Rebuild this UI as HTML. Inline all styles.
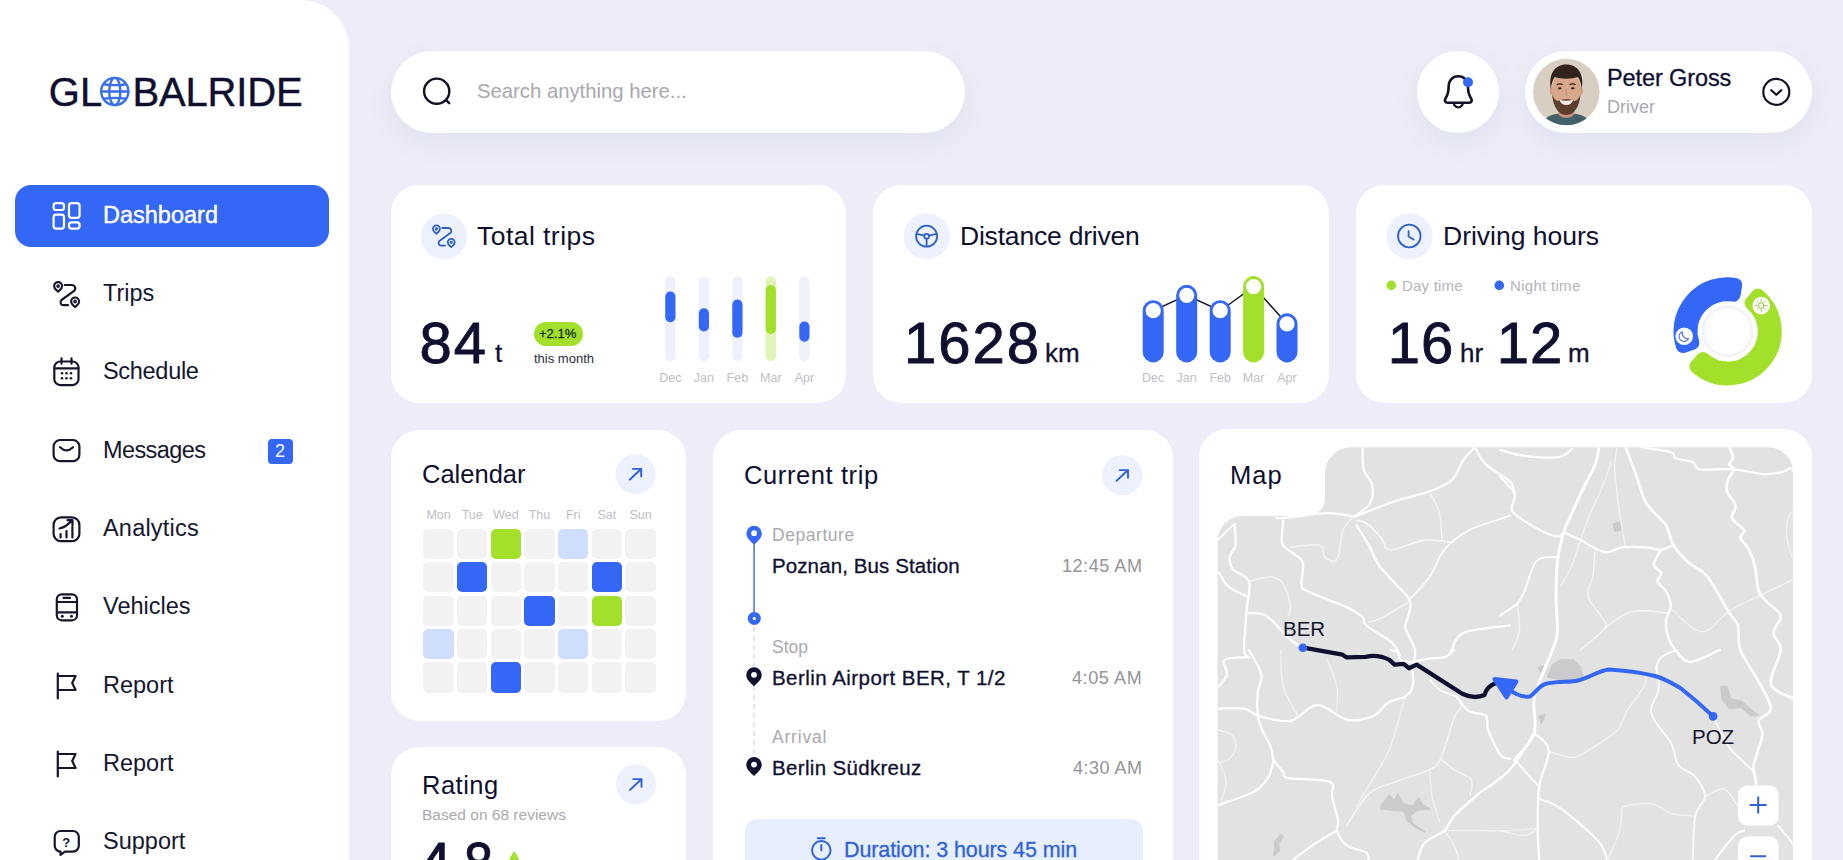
<!DOCTYPE html>
<html><head><meta charset="utf-8">
<style>
*{box-sizing:border-box;margin:0;padding:0}
html,body{width:1843px;height:860px;overflow:hidden}
body{background:#ecedf8;font-family:"Liberation Sans",sans-serif;color:#0f1030;position:relative}
.side{position:absolute;left:0;top:0;width:349px;height:860px;background:#fff;border-top-right-radius:48px}
.logo{-webkit-text-stroke:0.4px #0f1030;position:absolute;left:50px;top:68px;font-size:40px;line-height:46px;white-space:nowrap;color:#0f1030}
.nav{position:absolute;left:103px;font-size:23.5px;line-height:28px;white-space:nowrap;color:#15172f}
.navbtn{position:absolute;left:15px;top:185px;width:314px;height:62px;border-radius:16px;background:#3467f6}
.card{position:absolute;background:#fff;border-radius:28px}
.t{position:absolute;white-space:nowrap;line-height:1}
.g{color:#a9a9af}
.big{font-size:58px;-webkit-text-stroke:0.9px #0f1030}
.unit{font-size:26px;-webkit-text-stroke:0.3px #0f1030}
.h{font-size:26.5px}
.mon{margin-top:1px;font-size:12.5px;color:#bdbec6;transform:translateX(-50%)}
.day{font-size:12.5px;color:#bdbec6;transform:translateX(-50%)}
.cell{position:absolute;width:30.4px;height:30.4px;border-radius:5px;background:#f2f2f3}
.b{background:#3467f6}.gr{background:#a3e02c}.lb{background:#d0defd}
svg{position:absolute;left:0;top:0;overflow:visible}
</style></head><body>
<div class="side">
  <div class="logo" id="logo" style="left:48.8px;top:69px">GL</div><div class="logo" id="logo2" style="left:132.400px;top:69px;letter-spacing:-0.150px">BALRIDE</div>
  <div class="navbtn"></div>
  <div class="nav" style="top:201px;color:#fff;-webkit-text-stroke:0.4px #fff" id="n1">Dashboard</div>
  <div class="nav" style="top:279px" id="n2">Trips</div>
  <div class="nav" style="top:357px;letter-spacing:-0.3px" id="n3">Schedule</div>
  <div class="nav" style="top:436px;letter-spacing:-0.6px" id="n4">Messages</div>
  <div class="nav" style="top:514px;letter-spacing:0.2px" id="n5">Analytics</div>
  <div class="nav" style="top:592px" id="n6">Vehicles</div>
  <div class="nav" style="top:671px" id="n7">Report</div>
  <div class="nav" style="top:749px" id="n8">Report</div>
  <div class="nav" style="top:827px" id="n9">Support</div>
  <div style="position:absolute;left:267.5px;top:439px;width:25px;height:25px;border-radius:4px;background:#3467f6;color:#fff;font-size:18px;line-height:25px;text-align:center">2</div>
</div>
<!-- search -->
<div class="card" style="left:391px;top:51px;width:574px;height:82px;border-radius:41px;box-shadow:0 10px 26px rgba(100,105,150,0.085)"></div>
<div class="t g" style="left:477px;top:81px;font-size:20.3px;color:#a8a8ae" id="srch">Search anything here...</div>
<!-- bell -->
<div class="card" style="left:1417px;top:51px;width:82px;height:82px;border-radius:41px;box-shadow:0 10px 26px rgba(100,105,150,0.085)"></div>
<!-- profile -->
<div class="card" style="left:1525px;top:51px;width:287px;height:82px;border-radius:41px;box-shadow:0 10px 26px rgba(100,105,150,0.085)"></div>
<div class="t" style="left:1607px;top:67px;font-size:23.5px;letter-spacing:-0.1px;-webkit-text-stroke:0.3px #0f1030" id="pname">Peter Gross</div>
<div class="t g" style="left:1607px;top:98px;font-size:18px" id="prole">Driver</div>
<!-- row 1 -->
<div class="card" style="left:390.600px;top:184.600px;width:455.900px;height:218.800px"></div>
<div class="card" style="left:872.700px;top:184.600px;width:456.500px;height:218.800px"></div>
<div class="card" style="left:1355.800px;top:184.600px;width:456.400px;height:218.800px"></div>
<div class="t h" style="left:477px;top:223px;letter-spacing:0.45px" id="h1">Total trips</div>
<div class="t h" style="left:960px;top:223px;letter-spacing:-0.2px" id="h2">Distance driven</div>
<div class="t h" style="left:1443px;top:223px" id="h3">Driving hours</div>
<div class="t big" style="left:419.5px;top:314px;letter-spacing:2px" id="v1">84</div>
<div class="t unit" style="left:495px;top:340px" id="u1">t</div>
<div style="position:absolute;left:534px;top:322px;width:49px;height:24px;border-radius:12px;background:#a3e02c"></div>
<div class="t" style="left:539px;top:327px;font-size:13px;color:#16301a;-webkit-text-stroke:0.3px #16301a" id="pct">+2.1%</div>
<div class="t" style="left:534px;top:352px;font-size:13px;color:#2b2d42" id="tm">this month</div>
<div class="t big" style="left:904px;top:314px;letter-spacing:2px" id="v2">1628</div>
<div class="t unit" style="left:1045px;top:340px" id="u2">km</div>
<div class="t big" style="left:1387.8px;top:314px;letter-spacing:1px" id="v3">16</div>
<div class="t unit" style="left:1460px;top:340px" id="u3">hr</div>
<div class="t big" style="left:1496.8px;top:314px;letter-spacing:1px" id="v4">12</div>
<div class="t unit" style="left:1568px;top:340px" id="u4">m</div>
<div class="t g" style="left:1402px;top:278px;font-size:15px;color:#b4b4ba;letter-spacing:0.2px" id="dt">Day time</div>
<div class="t g" style="left:1510px;top:278px;font-size:15px;color:#b4b4ba;letter-spacing:0.3px" id="nt">Night time</div>
<!-- month labels -->
<div class="t mon" style="left:670.4px;top:371px">Dec</div>
<div class="t mon" style="left:703.9px;top:371px">Jan</div>
<div class="t mon" style="left:737.4px;top:371px">Feb</div>
<div class="t mon" style="left:770.8px;top:371px">Mar</div>
<div class="t mon" style="left:804.4px;top:371px">Apr</div>
<div class="t mon" style="left:1153.2px;top:371px">Dec</div>
<div class="t mon" style="left:1186.7px;top:371px">Jan</div>
<div class="t mon" style="left:1220.2px;top:371px">Feb</div>
<div class="t mon" style="left:1253.6px;top:371px">Mar</div>
<div class="t mon" style="left:1287px;top:371px">Apr</div>
<!-- row 2 -->
<div class="card" style="left:390.600px;top:429.600px;width:295.700px;height:291px"></div>
<div class="card" style="left:390.600px;top:747.200px;width:295.700px;height:200px"></div>
<div class="card" style="left:712.800px;top:429.600px;width:460.600px;height:500px"></div>
<div class="card" style="left:1199px;top:429.400px;width:613.200px;height:500px"></div>
<div class="t" style="left:422px;top:462px;font-size:25.5px" id="cal">Calendar</div>
<div class="t" style="left:422px;top:773px;font-size:25.5px;letter-spacing:0.5px" id="rat">Rating</div>
<div class="t g" style="left:422px;top:807px;font-size:15.5px" id="bas">Based on 68 reviews</div>
<div class="t big" style="left:419.200px;top:834px" id="r48">4</div><div class="t big" style="left:463.500px;top:834px;transform:scaleX(0.9);transform-origin:0 0" id="r8">8</div>
<div class="t" style="left:744px;top:463px;font-size:25.5px;letter-spacing:0.6px" id="cur">Current trip</div>
<div class="t" style="left:1230px;top:463px;font-size:25.5px;z-index:5;letter-spacing:1px" id="map">Map</div>
<div class="t day" style="left:438.6px;top:509px">Mon</div><div class="t day" style="left:472.2px;top:509px">Tue</div><div class="t day" style="left:505.9px;top:509px">Wed</div><div class="t day" style="left:539.5px;top:509px">Thu</div><div class="t day" style="left:573.2px;top:509px">Fri</div><div class="t day" style="left:606.9px;top:509px">Sat</div><div class="t day" style="left:640.5px;top:509px">Sun</div>
<div class="cell " style="left:423.4px;top:528.6px"></div><div class="cell " style="left:457.0px;top:528.6px"></div><div class="cell gr" style="left:490.7px;top:528.6px"></div><div class="cell " style="left:524.3px;top:528.6px"></div><div class="cell lb" style="left:558.0px;top:528.6px"></div><div class="cell " style="left:591.6px;top:528.6px"></div><div class="cell " style="left:625.3px;top:528.6px"></div><div class="cell " style="left:423.4px;top:562.1px"></div><div class="cell b" style="left:457.0px;top:562.1px"></div><div class="cell " style="left:490.7px;top:562.1px"></div><div class="cell " style="left:524.3px;top:562.1px"></div><div class="cell " style="left:558.0px;top:562.1px"></div><div class="cell b" style="left:591.6px;top:562.1px"></div><div class="cell " style="left:625.3px;top:562.1px"></div><div class="cell " style="left:423.4px;top:595.5px"></div><div class="cell " style="left:457.0px;top:595.5px"></div><div class="cell " style="left:490.7px;top:595.5px"></div><div class="cell b" style="left:524.3px;top:595.5px"></div><div class="cell " style="left:558.0px;top:595.5px"></div><div class="cell gr" style="left:591.6px;top:595.5px"></div><div class="cell " style="left:625.3px;top:595.5px"></div><div class="cell lb" style="left:423.4px;top:629.0px"></div><div class="cell " style="left:457.0px;top:629.0px"></div><div class="cell " style="left:490.7px;top:629.0px"></div><div class="cell " style="left:524.3px;top:629.0px"></div><div class="cell lb" style="left:558.0px;top:629.0px"></div><div class="cell " style="left:591.6px;top:629.0px"></div><div class="cell " style="left:625.3px;top:629.0px"></div><div class="cell " style="left:423.4px;top:662.4px"></div><div class="cell " style="left:457.0px;top:662.4px"></div><div class="cell b" style="left:490.7px;top:662.4px"></div><div class="cell " style="left:524.3px;top:662.4px"></div><div class="cell " style="left:558.0px;top:662.4px"></div><div class="cell " style="left:591.6px;top:662.4px"></div><div class="cell " style="left:625.3px;top:662.4px"></div>
<!-- trip -->
<div class="t g" style="left:772px;top:527px;font-size:17.5px;letter-spacing:0.55px" id="dep">Departure</div>
<div class="t" style="left:772px;top:556px;font-size:20.5px;letter-spacing:0.1px;-webkit-text-stroke:0.3px #0f1030" id="poz">Poznan, Bus Station</div>
<div class="t" style="left:1062px;top:557px;font-size:18px;color:#939399;letter-spacing:0.55px" id="t1">12:45 AM</div>
<div class="t g" style="left:772px;top:639px;font-size:17.5px" id="stp">Stop</div>
<div class="t" style="left:772px;top:668px;font-size:20.5px;letter-spacing:0.45px;-webkit-text-stroke:0.3px #0f1030" id="ber">Berlin Airport BER, T 1/2</div>
<div class="t" style="left:1072px;top:669px;font-size:18px;color:#939399;letter-spacing:0.6px" id="t2">4:05 AM</div>
<div class="t g" style="left:772px;top:729px;font-size:17.5px;letter-spacing:0.8px" id="arr">Arrival</div>
<div class="t" style="left:772px;top:758px;font-size:20.5px;letter-spacing:0.33px;-webkit-text-stroke:0.3px #0f1030" id="sud">Berlin Südkreuz</div>
<div class="t" style="left:1073px;top:759px;font-size:18px;color:#939399;letter-spacing:0.5px" id="t3">4:30 AM</div>
<div style="position:absolute;left:745px;top:819px;width:398px;height:60px;border-radius:12px;background:#e7effe"></div>
<div class="t" style="left:844px;top:839.5px;font-size:21.5px;color:#2f62d9;letter-spacing:-0.1px;-webkit-text-stroke:0.3px #2f62d9" id="dur">Duration: 3 hours 45 min</div>
<svg width="1843" height="860" viewBox="0 0 1843 860">
<defs><clipPath id="mapclip"><path d="M1217.5 870V541a25 25 0 0 1 25-25H1307a18 18 0 0 0 18-18V473.300a26 26 0 0 1 26-26H1768.500a24.500 24.500 0 0 1 24.500 24.500V870Z"/></clipPath></defs>
<g clip-path="url(#mapclip)">
<rect x="1210" y="440" width="600" height="430" fill="#e2e2e3"/>
<g fill="#cbcbcd" stroke="#cbcbcd" stroke-width="1.5" stroke-linejoin="round"><path d="M1380.9 806.2 L1389.4 795.2 L1394.3 801.3 L1397.9 794.0 L1402.8 803.8 L1412.6 806.2 L1418.7 797.7 L1422.4 805.0 L1429.7 808.7 L1417.5 809.9 L1410.1 816.0 L1412.6 823.3 L1424.8 831.8 L1415.0 826.9 L1407.7 820.9 L1404.0 811.1 L1390.6 809.9 L1380.9 808.7Z"/><path d="M1547.6 676.9 L1552.5 664.6 L1561.0 659.8 L1573.2 659.8 L1580.5 667.1 L1583.0 676.9 L1573.2 680.5 L1558.6 679.3Z"/><path d="M1720.9 686.6 L1727.0 686.6 L1730.6 698.8 L1741.7 701.3 L1753.8 712.2 L1758.7 714.7 L1751.4 715.9 L1741.7 707.4 L1729.4 708.6 L1722.1 698.8Z"/><path d="M1539.0 716.0 L1545.0 714.7 L1541.5 723.2Z"/><path d="M1613.0 524.0 L1620.0 522.0 L1621.0 530.0 L1615.0 531.0Z"/><path d="M1538.0 668.0 L1543.0 666.0 L1541.0 672.0Z"/><path d="M1280.8 834.3 L1283.0 836.0 L1278.5 843.0 L1279.5 850.0 L1274.5 856.0 L1273.5 854.0 L1275.0 849.0 L1274.5 842.0Z"/></g>
<g fill="none" stroke="#fff" stroke-linecap="round" stroke-linejoin="round">
<path d="M1362.6 447.3C1362.8 451.0 1362.2 463.0 1363.8 469.3C1365.4 475.6 1371.3 479.5 1372.3 485.2C1373.3 490.9 1373.0 498.2 1369.9 503.5C1366.9 508.8 1356.7 514.7 1354.0 516.9" stroke-width="2.21"/>
<path d="M1354.0 516.9C1360.9 514.2 1382.9 505.3 1395.5 501.0C1408.1 496.7 1420.4 494.8 1429.7 491.3C1439.0 487.9 1445.9 485.6 1451.6 480.3C1457.3 475.0 1459.9 465.0 1463.8 459.5C1467.7 454.0 1473.0 449.3 1474.8 447.3" stroke-width="2.21"/>
<path d="M1474.8 447.3C1476.6 450.1 1479.9 458.7 1485.8 464.4C1491.7 470.1 1505.2 476.6 1510.0 481.5C1514.8 486.4 1513.8 491.7 1514.6 493.7" stroke-width="2.21"/>
<path d="M1354.0 516.9C1349.5 516.3 1339.0 513.0 1327.2 513.2C1315.4 513.4 1291.8 517.4 1283.2 518.1C1274.7 518.8 1277.1 517.7 1275.9 517.6" stroke-width="2.21"/>
<path d="M1283.2 520.5C1283.0 524.2 1281.2 537.6 1282.0 542.5C1282.8 547.4 1284.6 546.5 1288.1 549.8C1291.5 553.0 1300.5 556.3 1302.7 562.0C1304.9 567.7 1300.7 579.1 1301.5 584.0C1302.3 588.9 1300.1 587.4 1307.6 591.3C1315.1 595.2 1337.5 602.9 1346.7 607.2C1355.9 611.5 1359.2 614.0 1362.5 617.0C1365.8 620.0 1361.3 621.2 1366.2 625.5C1371.1 629.8 1386.2 637.7 1391.8 642.6C1397.4 647.5 1398.6 652.9 1400.0 655.0" stroke-width="2.21"/>
<path d="M1356.5 525.4C1358.5 528.7 1365.0 538.5 1368.7 545.0C1372.4 551.5 1373.9 558.0 1378.4 564.5C1382.9 571.0 1390.2 577.9 1395.5 584.0C1400.8 590.1 1408.1 595.4 1410.1 601.1C1412.1 606.8 1408.5 613.7 1407.7 618.2C1406.9 622.7 1404.1 622.7 1405.3 628.0C1406.5 633.3 1413.8 643.1 1415.0 650.0C1416.2 656.9 1413.0 666.2 1412.6 669.5" stroke-width="2.21"/>
<path d="M1410.1 598.7C1413.4 595.0 1424.0 584.9 1429.7 576.7C1435.4 568.6 1437.8 557.5 1444.3 549.8C1450.8 542.1 1457.8 536.0 1468.7 530.3C1479.7 524.6 1499.5 519.9 1510.0 515.7" stroke-width="1.95" stroke-opacity="0.85"/>
<path d="M1356.5 520.5C1358.1 520.9 1362.1 520.1 1366.2 523.0C1370.3 525.9 1376.8 533.1 1380.9 537.6C1385.0 542.1 1383.3 549.4 1390.6 549.8C1397.9 550.2 1414.6 541.3 1424.8 540.1C1435.0 538.9 1447.1 542.1 1451.6 542.5" stroke-width="1.69" stroke-opacity="0.7"/>
<path d="M1429.7 492.5C1431.3 495.9 1437.4 505.3 1439.4 513.2C1441.4 521.1 1441.5 535.6 1441.9 540.1" stroke-width="1.56" stroke-opacity="0.6"/>
<path d="M1234.4 524.2C1234.6 527.7 1236.4 539.5 1235.6 545.0C1234.8 550.5 1229.9 553.1 1229.5 557.2C1229.1 561.3 1230.0 565.3 1233.2 569.4C1236.5 573.5 1246.8 574.7 1249.0 581.6C1251.2 588.5 1247.4 599.5 1246.6 610.9C1245.8 622.3 1243.8 642.3 1244.2 650.0C1244.6 657.7 1248.2 656.1 1249.0 657.3" stroke-width="2.21"/>
<path d="M1249.0 581.6C1252.7 580.8 1265.3 576.3 1271.0 576.7C1276.7 577.1 1280.0 579.1 1283.2 584.0C1286.5 588.9 1289.7 600.7 1290.5 606.0C1291.3 611.3 1288.5 614.1 1288.1 615.7" stroke-width="1.56" stroke-opacity="0.6"/>
<path d="M1290.5 547.4C1295.4 547.0 1314.1 543.4 1319.8 545.0C1325.5 546.6 1321.8 554.8 1324.7 557.2C1327.6 559.6 1333.9 564.1 1336.9 559.6C1340.0 555.1 1340.5 537.2 1343.0 530.3C1345.5 523.4 1350.2 520.1 1351.6 518.1" stroke-width="1.56" stroke-opacity="0.6"/>
<path d="M1510.0 625.5C1502.3 626.7 1473.5 628.7 1463.8 632.8C1454.1 636.9 1453.2 647.1 1451.6 650.0C1450.0 652.9 1453.7 650.0 1454.1 650.0" stroke-width="2.21"/>
<path d="M1410.1 601.1C1405.2 604.0 1387.8 614.8 1380.9 618.2C1374.0 621.7 1370.7 621.2 1368.7 621.8" stroke-width="1.56" stroke-opacity="0.6"/>
<path d="M1218.5 571.8C1220.1 574.2 1223.6 582.4 1228.3 586.5C1233.0 590.6 1243.5 594.6 1246.6 596.2" stroke-width="2.21"/>
<path d="M1246.6 613.3C1249.8 613.7 1259.2 611.6 1266.1 615.7C1273.0 619.8 1282.8 632.8 1288.1 637.7C1293.4 642.6 1295.4 643.0 1297.9 645.0C1300.4 647.0 1302.2 649.2 1303.0 650.0" stroke-width="2.21"/>
<path d="M1218.0 540.0C1219.3 538.7 1223.3 534.6 1226.0 532.0C1228.7 529.4 1233.0 525.5 1234.4 524.2" stroke-width="1.82"/>
<path d="M1598.9 447.3C1598.3 450.1 1597.9 457.5 1595.2 464.4C1592.5 471.3 1587.1 480.2 1583.0 488.8C1578.9 497.4 1574.0 508.4 1570.8 515.7C1567.5 523.0 1565.7 525.1 1563.5 532.8C1561.3 540.5 1558.6 551.0 1557.4 562.0C1556.2 573.0 1556.1 586.9 1556.1 598.7C1556.1 610.5 1558.0 624.2 1557.4 632.8C1556.8 641.3 1554.3 644.7 1552.5 650.0C1550.7 655.3 1549.5 656.5 1546.4 664.6C1543.4 672.7 1536.2 687.4 1534.2 698.8C1532.2 710.2 1537.5 722.8 1534.2 733.0C1530.9 743.2 1520.3 752.9 1514.6 759.8" stroke-width="2.86"/>
<path d="M1625.7 447.3C1627.5 452.2 1633.2 467.2 1636.7 476.6C1640.2 486.0 1641.6 495.4 1646.5 503.5C1651.4 511.6 1661.5 518.5 1666.0 525.4C1670.5 532.3 1669.6 538.9 1673.3 545.0C1677.0 551.1 1682.2 556.7 1687.9 562.0C1693.6 567.3 1700.6 568.2 1707.5 576.7C1714.4 585.2 1724.3 605.2 1729.4 613.3C1734.5 621.4 1736.2 619.4 1738.0 625.5C1739.8 631.6 1737.0 640.6 1740.4 650.0C1743.9 659.4 1753.6 671.9 1758.7 681.7C1763.8 691.5 1770.9 702.1 1770.9 708.6C1770.9 715.1 1760.1 716.3 1758.7 720.8C1757.3 725.3 1763.2 728.1 1762.4 735.4C1761.6 742.7 1754.8 756.6 1753.8 764.7C1752.8 772.8 1755.9 781.0 1756.3 784.2" stroke-width="2.60"/>
<path d="M1500.0 476.6C1502.4 479.5 1512.6 488.0 1514.6 493.7C1516.6 499.4 1509.3 505.5 1512.2 510.8C1515.1 516.1 1524.4 521.1 1531.7 525.4C1539.0 529.7 1550.7 535.2 1556.1 536.4C1561.5 537.5 1562.7 533.0 1564.0 532.3" stroke-width="2.21"/>
<path d="M1564.0 532.3C1566.8 533.6 1573.7 536.8 1580.5 540.1C1587.3 543.4 1598.1 551.1 1605.0 552.3C1611.9 553.5 1615.1 548.2 1622.0 547.4C1628.9 546.6 1640.0 547.0 1646.5 547.4C1653.0 547.8 1656.6 550.2 1661.1 549.8C1665.6 549.4 1671.3 545.8 1673.3 545.0" stroke-width="2.21"/>
<path d="M1661.1 549.8C1659.9 552.2 1653.8 560.6 1653.8 564.5C1653.8 568.4 1660.5 570.1 1661.1 573.0C1661.7 575.9 1656.6 578.6 1657.4 581.6C1658.2 584.6 1663.8 587.2 1666.0 591.3C1668.2 595.4 1670.9 601.1 1670.9 606.0C1670.9 610.9 1666.4 615.3 1666.0 620.6C1665.6 625.9 1666.8 632.8 1668.4 637.7C1670.0 642.6 1672.1 646.0 1675.7 650.0C1679.3 654.0 1682.6 662.0 1690.0 662.0C1697.4 662.0 1715.0 652.0 1720.0 650.0" stroke-width="2.34"/>
<path d="M1500.0 449.8C1504.1 450.8 1514.6 454.7 1524.4 455.9C1534.2 457.1 1550.7 458.3 1558.6 457.1C1566.5 455.9 1569.8 449.9 1572.0 448.5" stroke-width="2.21"/>
<path d="M1641.6 447.3C1646.5 448.1 1665.2 450.4 1670.9 452.2C1676.6 454.0 1672.1 456.7 1675.7 458.3C1679.3 459.9 1688.7 460.2 1692.8 462.0C1696.9 463.8 1693.2 468.1 1700.1 469.3C1707.0 470.5 1723.7 468.5 1734.3 469.3C1744.9 470.1 1755.5 473.8 1763.6 474.2C1771.7 474.6 1778.6 472.7 1783.1 471.7C1787.6 470.7 1788.7 468.1 1790.5 468.1C1792.3 468.1 1793.5 471.1 1794.1 471.7" stroke-width="2.21"/>
<path d="M1729.4 447.3C1730.0 448.9 1733.1 454.2 1733.1 457.1C1733.1 460.0 1729.2 462.4 1729.4 464.4C1729.6 466.4 1734.5 466.9 1734.3 469.3C1734.1 471.8 1729.4 475.4 1728.2 479.1C1727.0 482.8 1725.8 486.8 1727.0 491.3C1728.2 495.8 1734.7 501.4 1735.5 505.9C1736.3 510.4 1730.5 514.0 1731.9 518.1C1733.3 522.2 1742.7 527.0 1744.1 530.3C1745.5 533.5 1739.6 534.4 1740.4 537.6C1741.2 540.9 1746.5 544.9 1749.0 549.8C1751.5 554.7 1753.5 560.0 1755.1 566.9C1756.7 573.8 1756.5 585.2 1758.7 591.3C1760.9 597.4 1764.8 599.4 1768.5 603.5C1772.2 607.6 1779.9 610.8 1780.7 615.7C1781.5 620.6 1773.4 627.1 1773.4 632.8C1773.4 638.5 1781.1 641.4 1780.7 650.0C1780.3 658.6 1768.7 676.1 1770.9 684.2C1773.1 692.3 1790.2 696.4 1794.1 698.8" stroke-width="2.60"/>
<path d="M1617.2 447.3C1616.8 451.0 1614.3 458.3 1614.7 469.3C1615.1 480.3 1617.8 500.2 1619.6 513.2C1621.4 526.2 1624.7 541.7 1625.7 547.4" stroke-width="1.43" stroke-opacity="0.55"/>
<path d="M1611.0 462.0C1609.6 466.1 1606.0 477.9 1602.5 486.4C1599.0 494.9 1594.0 504.3 1590.3 513.2C1586.6 522.2 1583.3 532.0 1580.5 540.1C1577.7 548.2 1576.5 554.3 1573.2 562.0C1570.0 569.7 1563.0 582.4 1561.0 586.5" stroke-width="1.43" stroke-opacity="0.5"/>
<path d="M1595.2 549.8C1594.8 554.3 1594.0 569.0 1592.8 576.7C1591.6 584.4 1586.3 589.3 1587.9 596.2C1589.5 603.1 1599.7 612.9 1602.5 618.2C1605.3 623.5 1608.7 622.7 1605.0 628.0C1601.3 633.3 1584.6 646.3 1580.5 650.0" stroke-width="1.56" stroke-opacity="0.6"/>
<path d="M1605.0 628.0C1608.7 625.5 1620.0 616.1 1626.9 613.3C1633.8 610.4 1639.6 610.9 1646.5 610.9C1653.4 610.9 1664.8 612.9 1668.4 613.3" stroke-width="1.56" stroke-opacity="0.6"/>
<path d="M1500.0 615.7C1502.8 613.7 1513.0 607.6 1517.1 603.5C1521.2 599.4 1521.2 598.4 1524.4 591.3C1527.7 584.2 1531.3 566.5 1536.6 560.8C1541.9 555.1 1552.8 557.8 1556.1 557.2" stroke-width="1.95"/>
<path d="M1517.1 603.5C1517.5 608.0 1520.3 622.6 1519.5 630.4C1518.7 638.1 1513.4 646.7 1512.2 650.0" stroke-width="1.56" stroke-opacity="0.6"/>
<path d="M1794.1 579.1C1788.2 582.0 1769.5 590.9 1758.7 596.2C1747.9 601.5 1737.9 605.2 1729.4 610.9C1720.9 616.6 1713.6 627.5 1707.5 630.4C1701.4 633.2 1698.9 631.7 1692.8 628.0C1686.7 624.3 1674.6 611.7 1670.9 608.4" stroke-width="1.43" stroke-opacity="0.5"/>
<path d="M1794.0 510.0C1793.0 511.3 1789.2 513.3 1788.0 518.0C1786.8 522.7 1786.3 531.5 1787.0 538.0C1787.7 544.5 1791.2 553.8 1792.0 557.0" stroke-width="1.43" stroke-opacity="0.5"/>
<path d="M1218.5 708.6C1222.8 708.6 1237.5 707.4 1244.2 708.6C1250.9 709.8 1251.1 713.9 1258.8 715.9C1266.5 717.9 1280.7 722.6 1290.5 720.8C1300.3 719.0 1308.0 705.1 1317.4 704.9C1326.8 704.7 1337.4 717.8 1346.7 719.6C1356.0 721.4 1366.6 718.8 1373.5 715.9C1380.4 713.0 1382.9 705.8 1388.2 702.5C1393.5 699.2 1401.2 699.0 1405.3 696.4C1409.4 693.8 1411.4 691.1 1412.6 686.6C1413.8 682.1 1412.6 672.4 1412.6 669.5" stroke-width="2.21"/>
<path d="M1249.0 650.0C1251.0 654.1 1259.9 667.1 1261.3 674.4C1262.7 681.7 1258.0 686.2 1257.6 693.9C1257.2 701.6 1256.6 711.8 1258.8 720.8C1261.0 729.8 1268.5 741.1 1271.0 747.6C1273.5 754.1 1271.5 755.7 1273.5 759.8C1275.5 763.9 1280.8 769.0 1283.2 772.0C1285.6 775.0 1280.4 776.5 1288.1 778.1C1295.8 779.7 1322.3 778.7 1329.6 781.8C1336.9 784.9 1330.6 790.0 1332.0 796.5C1333.4 803.0 1337.3 815.2 1338.1 820.9C1338.9 826.6 1335.5 826.5 1336.9 830.6C1338.3 834.7 1341.8 841.6 1346.7 845.3C1351.6 849.0 1362.5 850.1 1366.2 852.6C1369.9 855.1 1368.3 858.8 1368.7 860.0" stroke-width="2.21"/>
<path d="M1218.5 805.0C1224.4 802.8 1245.6 796.3 1253.9 791.6C1262.2 786.9 1265.3 782.2 1268.6 776.9C1271.9 771.6 1272.7 762.6 1273.5 759.8" stroke-width="2.21"/>
<path d="M1336.9 830.6C1332.8 833.0 1319.8 840.4 1312.5 845.3C1305.2 850.2 1296.2 857.5 1293.0 860.0" stroke-width="2.21"/>
<path d="M1346.7 825.7C1350.4 820.4 1360.6 801.3 1368.7 794.0C1376.8 786.7 1385.3 785.9 1395.5 781.8C1405.7 777.7 1422.2 773.5 1429.7 769.6C1437.2 765.7 1436.6 767.2 1440.7 758.6C1444.8 750.0 1450.6 727.0 1454.1 718.3C1457.5 709.5 1461.0 709.8 1461.4 706.1C1461.8 702.5 1457.3 698.0 1456.5 696.4" stroke-width="1.69" stroke-opacity="0.6"/>
<path d="M1456.5 696.4C1458.5 698.8 1463.8 707.8 1468.7 711.0C1473.6 714.2 1482.5 712.6 1485.8 715.9C1489.0 719.1 1485.8 724.0 1488.2 730.5C1490.6 737.0 1496.8 750.2 1500.4 754.9C1504.0 759.6 1508.4 758.0 1510.0 758.6" stroke-width="2.21"/>
<path d="M1534.2 733.0C1530.2 739.1 1519.3 759.4 1510.0 769.6C1500.7 779.8 1487.8 786.3 1478.5 794.0C1469.2 801.7 1459.8 809.9 1454.1 816.0C1448.4 822.1 1449.2 826.1 1444.3 830.6C1439.4 835.1 1429.3 837.9 1424.8 842.8C1420.3 847.7 1418.7 857.1 1417.5 860.0" stroke-width="2.34"/>
<path d="M1440.7 758.6C1442.9 760.4 1449.0 766.1 1454.1 769.6C1459.2 773.1 1468.5 774.9 1471.2 779.4C1473.9 783.9 1470.2 793.6 1470.0 796.5" stroke-width="1.56" stroke-opacity="0.6"/>
<path d="M1405.3 696.4C1403.7 702.1 1398.3 721.1 1395.5 730.5C1392.7 739.9 1392.3 744.0 1388.2 752.5C1384.1 761.0 1376.4 772.8 1371.1 781.8C1365.8 790.8 1358.9 802.1 1356.5 806.2" stroke-width="1.56" stroke-opacity="0.5"/>
<path d="M1429.7 769.6C1430.1 774.1 1430.4 788.0 1432.0 796.5C1433.6 805.0 1438.2 816.8 1439.4 820.9" stroke-width="1.43" stroke-opacity="0.5"/>
<path d="M1218.5 686.6C1219.9 684.6 1226.1 678.9 1227.1 674.4C1228.1 669.9 1220.9 662.6 1224.6 659.8C1228.2 656.9 1244.9 657.7 1249.0 657.3" stroke-width="2.21"/>
<path d="M1280.8 650.0C1281.2 656.1 1280.3 675.6 1283.2 686.6C1286.1 697.6 1295.5 711.0 1297.9 715.9" stroke-width="1.43" stroke-opacity="0.5"/>
<path d="M1327.2 659.8C1328.8 664.3 1335.3 678.1 1336.9 686.6C1338.5 695.1 1336.9 706.9 1336.9 711.0" stroke-width="1.43" stroke-opacity="0.5"/>
<path d="M1444.3 830.6C1445.9 833.0 1451.6 840.4 1454.1 845.3C1456.5 850.2 1458.2 857.5 1459.0 860.0" stroke-width="1.56" stroke-opacity="0.6"/>
<path d="M1444.3 830.6C1450.0 830.6 1467.5 830.6 1478.5 830.6C1489.5 830.6 1500.1 831.0 1510.0 830.6C1519.9 830.2 1533.2 828.6 1537.8 828.2" stroke-width="1.43" stroke-opacity="0.5"/>
<path d="M1412.6 662.2C1415.4 661.6 1424.4 659.3 1429.7 658.5C1435.0 657.7 1440.2 658.7 1444.3 657.3C1448.4 655.9 1452.5 651.2 1454.1 650.0" stroke-width="2.21"/>
<path d="M1390.6 650.0C1391.8 650.4 1396.3 650.8 1397.9 652.4C1399.5 654.0 1398.0 658.2 1400.4 659.8C1402.9 661.4 1410.6 661.8 1412.6 662.2" stroke-width="2.21"/>
<path d="M1456.5 696.4C1453.8 695.3 1444.4 692.7 1440.0 690.0C1435.6 687.3 1431.7 681.7 1430.0 680.0" stroke-width="1.69"/>
<path d="M1218.0 730.0C1220.3 730.8 1229.0 732.0 1232.0 735.0C1235.0 738.0 1236.7 743.8 1236.0 748.0C1235.3 752.2 1231.0 757.7 1228.0 760.0C1225.0 762.3 1219.7 761.7 1218.0 762.0" stroke-width="1.43" stroke-opacity="0.6"/>
<path d="M1218.0 760.0C1219.3 763.3 1225.3 773.3 1226.0 780.0C1226.7 786.7 1222.7 796.7 1222.0 800.0" stroke-width="1.43" stroke-opacity="0.5"/>
<path d="M1534.2 733.0C1536.6 735.9 1548.0 741.1 1548.8 750.1C1549.6 759.1 1540.9 773.7 1539.1 786.7C1537.3 799.7 1537.8 816.0 1537.8 828.2C1537.8 840.4 1538.9 854.7 1539.1 860.0" stroke-width="2.21"/>
<path d="M1514.6 759.8 L1539.1 786.7" stroke-width="1.95"/>
<path d="M1539.1 798.9C1542.8 800.5 1551.2 801.8 1561.0 808.7C1570.8 815.6 1589.9 831.9 1597.6 840.4C1605.3 848.9 1605.8 856.7 1607.4 860.0" stroke-width="1.95"/>
<path d="M1548.8 751.3C1552.9 752.3 1565.9 758.0 1573.2 757.4C1580.5 756.8 1585.5 752.1 1592.8 747.6C1600.1 743.1 1611.5 736.6 1617.2 730.5C1622.9 724.4 1622.4 718.3 1626.9 711.0C1631.4 703.7 1640.7 692.3 1644.0 686.6C1647.3 680.9 1646.1 678.5 1646.5 676.9" stroke-width="1.56" stroke-opacity="0.55"/>
<path d="M1656.2 667.1C1656.6 670.8 1659.5 681.3 1658.7 689.0C1657.9 696.7 1649.3 704.5 1651.3 713.5C1653.3 722.5 1666.4 734.2 1670.9 742.7C1675.4 751.2 1674.1 759.0 1678.2 764.7C1682.3 770.4 1690.8 771.6 1695.3 776.9C1699.8 782.2 1705.0 790.0 1705.0 796.5C1705.0 803.0 1697.3 805.4 1695.3 816.0C1693.3 826.6 1693.2 852.7 1692.8 860.0" stroke-width="1.95" stroke-opacity="0.8"/>
<path d="M1713.1 716.4C1715.8 721.6 1722.6 738.3 1729.4 747.6C1736.2 756.9 1749.3 765.9 1753.8 772.0C1758.3 778.1 1755.9 782.2 1756.3 784.2" stroke-width="1.95" stroke-opacity="0.8"/>
<path d="M1622.0 806.2C1626.9 805.8 1643.1 802.6 1651.3 803.8C1659.5 805.0 1663.6 811.5 1670.9 813.5C1678.2 815.5 1691.2 815.6 1695.3 816.0" stroke-width="1.43" stroke-opacity="0.5"/>
<path d="M1622.0 806.2C1621.6 810.3 1622.0 821.6 1619.6 830.6C1617.2 839.6 1609.4 855.1 1607.4 860.0" stroke-width="1.43" stroke-opacity="0.5"/>
<path d="M1500.0 830.6C1504.1 831.4 1518.1 835.9 1524.4 835.5C1530.7 835.1 1535.6 829.4 1537.8 828.2" stroke-width="1.43" stroke-opacity="0.5"/>
<path d="M1714.8 860.0C1718.0 855.9 1729.4 840.4 1734.3 835.5C1739.2 830.6 1742.5 831.4 1744.1 830.6" stroke-width="1.95"/>
<path d="M1705.0 796.5C1708.2 795.3 1718.8 787.2 1724.5 789.2C1730.2 791.2 1736.8 805.5 1739.2 808.7" stroke-width="1.56" stroke-opacity="0.6"/>
<path d="M1778.3 825.7 L1794.1 845.3" stroke-width="1.69"/>
<path d="M1656.2 667.1C1657.0 665.5 1657.8 660.1 1661.1 657.3C1664.3 654.4 1673.3 651.2 1675.7 650.0" stroke-width="1.95"/>
</g>
<!-- routes -->
<path d="M1303.400 647.700L1342.500 654.700L1346.400 657.300L1365.900 656.800Q1377.700 654 1389.400 659.900L1394.600 664.600L1403.700 663.800L1408.900 668.200L1416.700 664.600L1462.300 693.800Q1474 699.500 1484.400 695.100Q1487 686 1496.100 683" fill="none" stroke="#0f1030" stroke-width="4.300" stroke-linecap="round" stroke-linejoin="round"/>
<path d="M1508 688.500Q1519.600 698 1530 696.400C1537 692 1538 685.500 1547 683.500C1560 681 1570 682.500 1578 680.500C1590 677.500 1598 671 1608.600 669.600C1625 670.500 1640 672.500 1655 676C1667 679.500 1675 685 1681 688.500Q1697 701 1713.100 716.400" fill="none" stroke="#3467f6" stroke-width="4.000" stroke-linecap="round" stroke-linejoin="round"/>
<path d="M1494.500 679.100L1516.500 681.500L1506.500 697.500Z" fill="#3467f6" stroke="#3467f6" stroke-width="4" stroke-linejoin="round"/>
<circle cx="1302.800" cy="647.700" r="4.300" fill="#3467f6"/>
<circle cx="1713.100" cy="716.400" r="4.300" fill="#3467f6"/>
<text x="1283" y="636.300" font-family="Liberation Sans" font-size="20.500" fill="#15172f">BER</text>
<text x="1692" y="744" font-family="Liberation Sans" font-size="20.500" fill="#15172f">POZ</text>
<!-- zoom buttons -->
<rect x="1738" y="785.500" width="40.700" height="40" rx="9" fill="#fff"/>
<rect x="1738" y="836.500" width="40.700" height="40" rx="9" fill="#fff"/>
<path d="M1749.700 805h17M1758.200 796.500v17M1750.200 856.200h16" stroke="#2f62d9" stroke-width="2" fill="none"/>
</g>
</svg>
<svg id="gfx" width="1843" height="860" viewBox="0 0 1843 860">
<!-- logo globe -->
<g fill="none" stroke="#3a6fe8" stroke-width="2.400">
<circle cx="114.800" cy="91.500" r="13.600"/>
<ellipse cx="114.800" cy="91.500" rx="5.600" ry="13.600"/>
<path d="M101 91.500H128.600M103.500 84.200Q114.800 86 126.100 84.200M103.500 98.800Q114.800 97 126.100 98.800"/>
</g>
<!-- dashboard icon -->
<g fill="none" stroke="#fff" stroke-width="2.2">
<rect x="53.6" y="203.2" width="10.4" height="6.8" rx="2.6"/>
<rect x="53.6" y="214.6" width="10.4" height="14" rx="2.6"/>
<rect x="69" y="203.2" width="10.6" height="14.6" rx="2.6"/>
<rect x="69" y="222.4" width="10.6" height="6.2" rx="2.6"/>
</g>
<g fill="none" stroke="#15172f" stroke-width="2.2" stroke-linecap="round" stroke-linejoin="round">
<!-- trips -->
<path d="M58.1 291.6C56.5 290.0 54.1 289.3 54.1 286.1A4 4 0 1 1 62.1 286.1C62.1 289.3 59.7 290.0 58.1 291.6Z"/><circle cx="58.1" cy="286.1" r="0.8"/><path d="M75.1 307C73.5 305.4 71.1 304.7 71.1 301.5A4 4 0 1 1 79.1 301.5C79.1 304.7 76.69999999999999 305.4 75.1 307Z"/><circle cx="75.1" cy="301.5" r="0.8"/><path d="M64.800 285h7a3.400 3.400 0 0 1 2.300 5.900L61.500 300a3 3 0 0 0 2 5.200h4.500"/>
<!-- schedule -->
<rect x="54.300" y="361.500" width="24.200" height="23.600" rx="6"/>
<path d="M61.500 358.400v5.400M71.500 358.400v5.400M54.500 368.400h24"/>
<!-- messages -->
<rect x="53.600" y="440" width="25.800" height="21.200" rx="6.500"/>
<path d="M60 447.200q6.500 6.200 13 0"/>
<!-- analytics -->
<rect x="53.600" y="517.400" width="25.800" height="23.800" rx="7.500"/>
<path d="M60.600 537.500v-3.500M66.500 537.500v-6.500M72.400 537.500v-11M59.500 528.500q7-1.500 12.500-8.500M67.500 520.200h5v5"/>
<!-- vehicles -->
<rect x="56.800" y="594.300" width="20.200" height="26" rx="5"/>
<path d="M57 602h20M57 612.300h20M63.500 597.900h6.500"/>
<!-- flags -->
<path d="M57.800 673.500v25M57.800 676h17.800l-3.400 7 3.400 7h-17.800"/>
<path d="M57.800 751.500v25M57.800 754h17.800l-3.400 7 3.400 7h-17.800"/>
<!-- support -->
<path d="M60.500 831h12.500a5.800 5.800 0 0 1 5.800 5.800v9a5.800 5.800 0 0 1-5.800 5.800h-8l-4.500 3.200v-3.200a5.800 5.800 0 0 1-5.800-5.800v-9a5.800 5.800 0 0 1 5.800-5.800z"/>
</g>
<g fill="#15172f">
<circle cx="62" cy="373.300" r="1.250"/><circle cx="66.500" cy="373.300" r="1.250"/><circle cx="71" cy="373.300" r="1.250"/>
<circle cx="62" cy="378.300" r="1.250"/><circle cx="66.500" cy="378.300" r="1.250"/><circle cx="71" cy="378.300" r="1.250"/>
<circle cx="62.300" cy="616.300" r="1.500"/><circle cx="71.500" cy="616.300" r="1.500"/>
</g>
<text x="66.300" y="846.500" font-family="Liberation Sans" font-size="13" font-weight="bold" text-anchor="middle" fill="#15172f">?</text>

<!-- search icon -->
<g fill="none" stroke="#111225" stroke-width="2.4" stroke-linecap="round">
<circle cx="436.700" cy="91.200" r="12.600"/>
<path d="M446.800 100.800l2.400 2.400"/>
</g>
<!-- bell -->
<g fill="none" stroke="#111225" stroke-width="2.600" stroke-linejoin="round" stroke-linecap="round">
<path d="M1458.300 76.200c-5.600 0-9.600 4.300-9.600 9.800 0 6.500-1.200 9.500-3.200 12.500-1.300 2-0.300 4.300 2 4.300h21.600c2.300 0 3.300-2.300 2-4.300-2-3-3.200-6-3.200-12.500 0-5.500-4-9.800-9.600-9.800z"/>
<path d="M1454 104.800q4.300 5.400 8.600 0" stroke-width="2.200"/>
</g>
<circle cx="1468" cy="82.300" r="5" fill="#3467f6"/>
<!-- avatar -->
<defs><filter id="avb" x="-10%" y="-10%" width="120%" height="120%"><feGaussianBlur stdDeviation="0.55"/></filter><clipPath id="av"><circle cx="1566.300" cy="92" r="33.300"/></clipPath></defs>
<g clip-path="url(#av)"><g filter="url(#avb)">
<rect x="1530" y="55" width="75" height="75" fill="#d8cfc2"/>
<path d="M1538 132c2-13 11-19 28.300-19s26.300 6 28.300 19z" fill="#43606b"/>
<path d="M1558.500 104h15.600v10.500c-3 4.500-12.600 4.500-15.600 0z" fill="#c4907a"/>
<ellipse cx="1551.800" cy="91" rx="2" ry="3.500" fill="#cf9a80"/><ellipse cx="1580.800" cy="91" rx="2" ry="3.500" fill="#cf9a80"/>
<ellipse cx="1566.300" cy="90" rx="14.400" ry="19.500" fill="#d9a88c"/>
<path d="M1550.800 89c-2.500-15 4-24.500 15.500-24.500s18 9.500 15.500 24.500c-0.800-6-2-9.500-4-12-7 2.200-16 2.200-23 0-2 2.500-3.200 6-4 12z" fill="#33231b"/>
<path d="M1552 94c1 12 6 21 14.300 21s13.300-9 14.300-21c-1.500 4.500-3.500 6.500-5.500 7-5-2.200-12.600-2.200-17.600 0-2-0.500-4-2.500-5.500-7z" fill="#5b3c2d"/>
<path d="M1559.300 99.800q7 1.800 14 0q-1.800 5.200-7 5.200t-7-5.200z" fill="#f1e9e3"/>
<path d="M1556.800 84.600q3-1.400 6 0M1569.600 84.600q3-1.400 6 0" stroke="#33231b" stroke-width="1.300" fill="none"/>
<ellipse cx="1559.800" cy="88.300" rx="1.800" ry="1.100" fill="#2e2019"/><ellipse cx="1572.800" cy="88.300" rx="1.800" ry="1.100" fill="#2e2019"/>
<path d="M1566.300 89v6.500" stroke="#c08c72" stroke-width="1.500" fill="none"/>
</g></g>
<!-- chevron -->
<g fill="none" stroke="#111225" stroke-width="2.200" stroke-linecap="round" stroke-linejoin="round">
<circle cx="1776.300" cy="91.900" r="13"/>
<path d="M1771.300 90.200l5 4.600 5-4.600"/>
</g>

<circle cx="444" cy="236.6" r="23" fill="#edf1fd"/>
<circle cx="926.8" cy="236.2" r="23" fill="#edf1fd"/>
<circle cx="1409.4" cy="236.2" r="23" fill="#edf1fd"/>
<g transform="translate(432,224.500) scale(0.87) translate(-53,-281)" fill="none" stroke="#2f5fc8" stroke-width="2.100" stroke-linecap="round" stroke-linejoin="round">
<path d="M58.1 291.6C56.5 290.0 54.1 289.3 54.1 286.1A4 4 0 1 1 62.1 286.1C62.1 289.3 59.7 290.0 58.1 291.6Z"/><circle cx="58.1" cy="286.1" r="0.8"/><path d="M75.1 307C73.5 305.4 71.1 304.7 71.1 301.5A4 4 0 1 1 79.1 301.5C79.1 304.7 76.69999999999999 305.4 75.1 307Z"/><circle cx="75.1" cy="301.5" r="0.8"/><path d="M64.800 285h7a3.400 3.400 0 0 1 2.300 5.900L61.500 300a3 3 0 0 0 2 5.200h4.500"/>
</g>
<g fill="none" stroke="#2f5fc8" stroke-width="1.8" stroke-linecap="round">
<circle cx="926.6" cy="236.2" r="10.5"/><circle cx="926.6" cy="236.2" r="2.4"/>
<path d="M924.300 235.600l-7.600-1.800M928.900 235.600l7.600-1.800M926.600 238.700v7.600"/></g>
<g fill="none" stroke="#2f5fc8" stroke-width="1.8" stroke-linecap="round" stroke-linejoin="round">
<circle cx="1409.3" cy="236" r="11.300"/><path d="M1408.600 231.200v5.300l5 3.100"/></g>
<rect x="665.15" y="276.3" width="10.4" height="84.6" rx="5.2" fill="#eef1fc"/>
<rect x="665.25" y="291.4" width="10.2" height="30.9" rx="5.1" fill="#3467f6"/>
<rect x="698.70" y="276.3" width="10.4" height="84.6" rx="5.2" fill="#eef1fc"/>
<rect x="698.80" y="308.3" width="10.2" height="23.3" rx="5.1" fill="#3467f6"/>
<rect x="732.20" y="276.3" width="10.4" height="84.6" rx="5.2" fill="#eef1fc"/>
<rect x="732.30" y="299.4" width="10.2" height="38.4" rx="5.1" fill="#3467f6"/>
<rect x="765.60" y="276.3" width="10.4" height="84.6" rx="5.2" fill="#e0f4b8"/>
<rect x="765.70" y="284.9" width="10.2" height="49.1" rx="5.1" fill="#a3e02c"/>
<rect x="799.20" y="276.3" width="10.4" height="84.6" rx="5.2" fill="#eef1fc"/>
<rect x="799.30" y="321.4" width="10.2" height="20.3" rx="5.1" fill="#3467f6"/>
<polyline points="1153.2,310.7 1186.7,295.3 1220.2,310.7 1253.6,286.6 1287.0,323.8" fill="none" stroke="#111225" stroke-width="1.4"/>
<rect x="1142.70" y="300.2" width="21" height="62.2" rx="10.5" fill="#3467f6"/>
<circle cx="1153.2" cy="310.7" r="7.6" fill="#fff"/>
<rect x="1176.20" y="284.8" width="21" height="77.6" rx="10.5" fill="#3467f6"/>
<circle cx="1186.7" cy="295.3" r="7.6" fill="#fff"/>
<rect x="1209.70" y="300.2" width="21" height="62.2" rx="10.5" fill="#3467f6"/>
<circle cx="1220.2" cy="310.7" r="7.6" fill="#fff"/>
<rect x="1243.10" y="276.1" width="21" height="86.3" rx="10.5" fill="#a3e02c"/>
<circle cx="1253.6" cy="286.6" r="7.6" fill="#fff"/>
<rect x="1276.50" y="313.3" width="21" height="49.1" rx="10.5" fill="#3467f6"/>
<circle cx="1287.0" cy="323.8" r="7.6" fill="#fff"/>
<circle cx="1391.3" cy="285.4" r="4.8" fill="#a3e02c"/><circle cx="1499.3" cy="285.4" r="4.8" fill="#3467f6"/>
<circle cx="1727.5" cy="331.2" r="24.5" fill="none" stroke="#f4f4f7" stroke-width="3"/>
<path d="M1682.92 346.07A47.0 47.0 0 0 1 1735.22 284.84L1733.58 294.70A37.0 37.0 0 0 0 1692.40 342.91Z" fill="#3467f6" stroke="#3467f6" stroke-width="14" stroke-linejoin="round"/>
<path d="M1758.05 295.49A47.0 47.0 0 1 1 1696.39 366.43L1703.01 358.93A37.0 37.0 0 1 0 1751.55 303.09Z" fill="#a3e02c" stroke="#a3e02c" stroke-width="14" stroke-linejoin="round"/>
<circle cx="1684.2" cy="336.2" r="8.8" fill="#fff"/>
<path d="M1682.300 331.800a5 5 0 1 0 6.300 6.800a5.600 5.600 0 0 1-6.300-6.800z" fill="none" stroke="#4a6fd8" stroke-width="1.100" stroke-linejoin="round"/>
<circle cx="1761.2" cy="305.6" r="8.800" fill="#fff"/>
<g fill="none" stroke="#8fbf3a" stroke-width="1" stroke-linecap="round"><circle cx="1761.2" cy="305.600" r="2.800"/>
<path d="M1765.50 305.60L1767.00 305.60"/>
<path d="M1764.24 308.64L1765.30 309.70"/>
<path d="M1761.20 309.90L1761.20 311.40"/>
<path d="M1758.16 308.64L1757.10 309.70"/>
<path d="M1756.90 305.60L1755.40 305.60"/>
<path d="M1758.16 302.56L1757.10 301.50"/>
<path d="M1761.20 301.30L1761.20 299.80"/>
<path d="M1764.24 302.56L1765.30 301.50"/>
</g>
<circle cx="635.5" cy="474.2" r="20.1" fill="#edf1fd"/>
<path d="M629.7 479.7L641.2 468.8M632.9 468.9H641.2V476.6" fill="none" stroke="#2f5fd8" stroke-width="1.9" stroke-linecap="round" stroke-linejoin="round"/>
<circle cx="635.8" cy="784.4" r="20.1" fill="#edf1fd"/>
<path d="M630.0 789.9L641.5 779.0M633.2 779.1H641.5V786.8" fill="none" stroke="#2f5fd8" stroke-width="1.9" stroke-linecap="round" stroke-linejoin="round"/>
<circle cx="1122.3" cy="475.4" r="20.1" fill="#edf1fd"/>
<path d="M1116.5 480.9L1128.0 470.0M1119.7 470.1H1128.0V477.8" fill="none" stroke="#2f5fd8" stroke-width="1.9" stroke-linecap="round" stroke-linejoin="round"/>
<path d="M514.200 853.400l5 9.500h-10z" fill="#a3e02c" stroke="#a3e02c" stroke-width="3" stroke-linejoin="round"/>
<!-- trip timeline -->
<path d="M754.100 543v70" stroke="#4f78e0" stroke-width="1.600" fill="none"/>
<path d="M754 627v42M754 686v72" stroke="#dcdce3" stroke-width="1.500" stroke-dasharray="5 4" fill="none"/>
<path d="M754.100 544.600c-4.200-3.800-7.700-7-7.700-11.200a7.700 7.700 0 0 1 15.400 0c0 4.200-3.500 7.400-7.700 11.200z" fill="#3467f6"/>
<circle cx="754.100" cy="533.200" r="2.900" fill="#fff"/>
<circle cx="754.300" cy="618.400" r="6.500" fill="#3467f6"/><circle cx="754.300" cy="618.400" r="1.600" fill="#fff"/>
<path d="M754 686.200c-4.200-3.800-7.700-7-7.700-11.200a7.700 7.700 0 0 1 15.400 0c0 4.200-3.500 7.400-7.700 11.200z" fill="#0f1030"/>
<circle cx="754" cy="674.800" r="2.900" fill="#fff"/>
<path d="M754 776c-4.200-3.800-7.700-7-7.700-11.200a7.700 7.700 0 0 1 15.400 0c0 4.200-3.500 7.400-7.700 11.200z" fill="#0f1030"/>
<circle cx="754" cy="764.600" r="2.900" fill="#fff"/>
<!-- timer icon -->
<g fill="none" stroke="#2f62d9" stroke-width="1.900" stroke-linecap="round">
<circle cx="821.300" cy="850.300" r="9.300"/><path d="M821.300 845v5.500M817.800 838.300h7"/>
</g>


</svg>
</body></html>
